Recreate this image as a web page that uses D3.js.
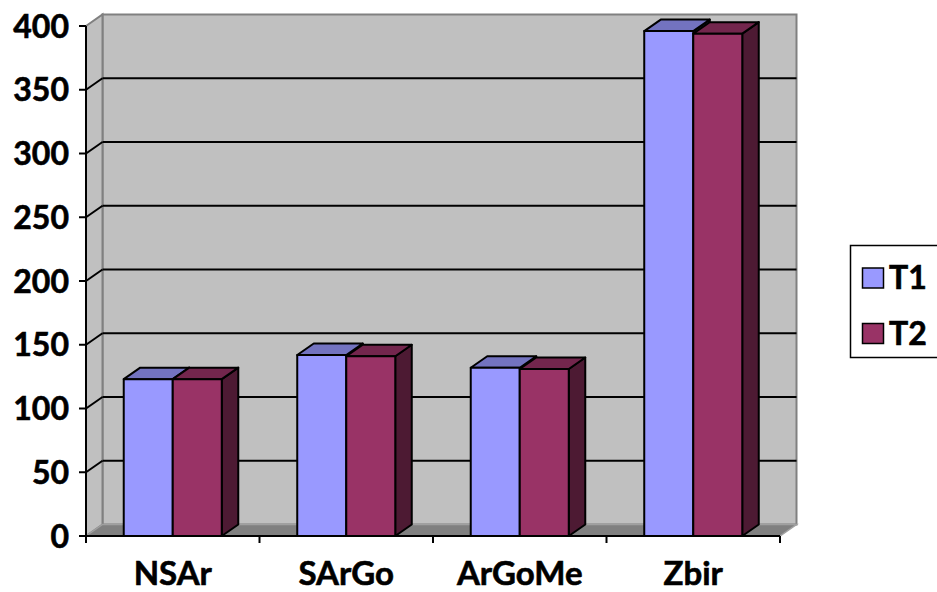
<!DOCTYPE html>
<html>
<head>
<meta charset="utf-8">
<script src="https://cdn.jsdelivr.net/npm/d3@7"></script>
<style>
  html, body { margin: 0; padding: 0; background: #fff; }
  svg { display: block; }
  text { font-family: Lato, "Open Sans", sans-serif; font-weight: bold; fill: #000; stroke: #000; stroke-width: 0.6px; }
</style>
</head>
<body>
<svg id="chart" width="937" height="592"></svg>
<script>
// Measurements per category for the two trials
const categories = ["NSAr", "SArGo", "ArGoMe", "Zbir"];
const seriesNames = ["T1", "T2"];
const t1Values = [123, 142, 132, 396];
const t2Values = [123, 141, 131, 394];
const yTicks = [0, 50, 100, 150, 200, 250, 300, 350, 400];

const seriesValues = [t1Values, t2Values];
const colors = {
  T1: { front: "#9999ff", top: "#7373c0", side: "#4d4d80" },
  T2: { front: "#993366", top: "#73264d", side: "#4d1a33" }
};

const svg = d3.select("#chart");

// Plot frame and 3D depth offset
const plotLeft = 86, plotRight = 780, plotBottom = 536, plotTop = 26;
const dx = 16.5, dy = -11.5;

const x0 = d3.scaleBand().domain(categories).range([plotLeft, plotRight]).paddingInner(0).paddingOuter(0);
const x1 = d3.scaleBand().domain(seriesNames).range([0, x0.step()]).paddingInner(0).paddingOuter(0.77);
const y = d3.scaleLinear().domain([0, 400]).range([plotBottom, plotTop]);

const wallFill = "#c0c0c0";
const edge = "#808080";

const pts = a => a.map(p => p.join(",")).join(" ");

// Back wall
svg.append("polygon")
  .attr("points", pts([[plotLeft + dx, plotTop + dy], [plotRight + dx, plotTop + dy], [plotRight + dx, plotBottom + dy], [plotLeft + dx, plotBottom + dy]]))
  .attr("fill", wallFill).attr("stroke", edge).attr("stroke-width", 2);

// Left side wall
svg.append("polygon")
  .attr("points", pts([[plotLeft, plotTop], [plotLeft + dx, plotTop + dy], [plotLeft + dx, plotBottom + dy], [plotLeft, plotBottom]]))
  .attr("fill", wallFill).attr("stroke", edge).attr("stroke-width", 2);

// Floor
svg.append("polygon")
  .attr("points", pts([[plotLeft, plotBottom], [plotLeft + dx, plotBottom + dy], [plotRight + dx, plotBottom + dy], [plotRight, plotBottom]]))
  .attr("fill", "#808080").attr("stroke", "#a0a0a0").attr("stroke-width", 1.5);

// Gridlines on back wall and side wall
const grid = svg.append("g");
yTicks.filter(v => v > 0 && v < 400).forEach(v => {
  grid.append("line")
    .attr("x1", plotLeft + dx).attr("x2", plotRight + dx)
    .attr("y1", y(v) + dy).attr("y2", y(v) + dy)
    .attr("stroke", "#000").attr("stroke-width", 2);
  grid.append("line")
    .attr("x1", plotLeft).attr("x2", plotLeft + dx)
    .attr("y1", y(v)).attr("y2", y(v) + dy)
    .attr("stroke", "#000").attr("stroke-width", 2);
});

// Bars drawn as boxes: front face, top face, right side face
const bars = svg.append("g");
categories.forEach((c, ci) => {
  seriesNames.forEach((s, si) => {
    const v = seriesValues[si][ci];
    const xa = x0(c) + x1(s);
    const xb = xa + x1.bandwidth();
    const yt = y(v), yb = y(0);
    const col = colors[s];
    const g = bars.append("g").attr("stroke", "#000").attr("stroke-width", 2).attr("stroke-linejoin", "round");
    g.append("polygon")
      .attr("points", pts([[xb, yt], [xb + dx, yt + dy], [xb + dx, yb + dy], [xb, yb]]))
      .attr("fill", col.side);
    g.append("polygon")
      .attr("points", pts([[xa, yt], [xa + dx, yt + dy], [xb + dx, yt + dy], [xb, yt]]))
      .attr("fill", col.top);
    g.append("rect")
      .attr("x", xa).attr("y", yt).attr("width", xb - xa).attr("height", yb - yt)
      .attr("fill", col.front);
  });
});

// Value axis
const yAxis = svg.append("g");
yAxis.append("line").attr("x1", plotLeft).attr("x2", plotLeft).attr("y1", plotTop).attr("y2", plotBottom)
  .attr("stroke", "#000").attr("stroke-width", 2);
yTicks.forEach(v => {
  yAxis.append("line").attr("x1", plotLeft - 7).attr("x2", plotLeft).attr("y1", y(v)).attr("y2", y(v))
    .attr("stroke", "#000").attr("stroke-width", 2);
  yAxis.append("text").attr("x", 69).attr("y", y(v)).attr("dy", "0.36em")
    .attr("text-anchor", "end").style("font-size", "32px").text(v);
});

// Category axis
const xAxis = svg.append("g");
xAxis.append("line").attr("x1", plotLeft).attr("x2", plotRight).attr("y1", plotBottom).attr("y2", plotBottom)
  .attr("stroke", "#000").attr("stroke-width", 2);
d3.range(categories.length + 1).forEach(i => {
  const xx = plotLeft + i * x0.step();
  xAxis.append("line").attr("x1", xx).attr("x2", xx).attr("y1", plotBottom).attr("y2", plotBottom + 7)
    .attr("stroke", "#000").attr("stroke-width", 2);
});
categories.forEach(c => {
  xAxis.append("text").attr("x", x0(c) + x0.bandwidth() / 2).attr("y", 585)
    .attr("text-anchor", "middle").style("font-size", "33px").text(c);
});

// Legend
const legend = svg.append("g");
legend.append("rect").attr("x", 850.5).attr("y", 245.5).attr("width", 100).attr("height", 112)
  .attr("fill", "#fff").attr("stroke", "#000").attr("stroke-width", 1.5);
seriesNames.forEach((s, i) => {
  const yy = 268 + i * 55.5;
  legend.append("rect").attr("x", 862.5).attr("y", yy).attr("width", 21).attr("height", 20)
    .attr("fill", colors[s].front).attr("stroke", "#000").attr("stroke-width", 1.5);
  legend.append("text").attr("x", 889).attr("y", yy + 21).style("font-size", "32px").text(s);
});
</script>
</body>
</html>
